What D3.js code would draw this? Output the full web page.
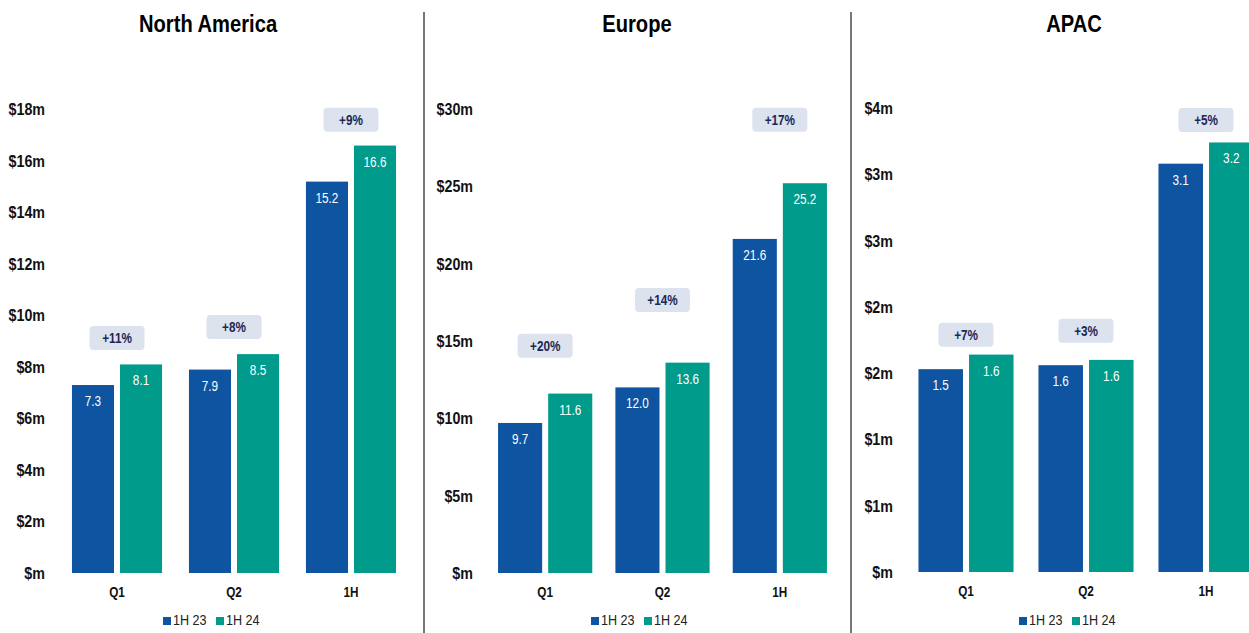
<!DOCTYPE html>
<html>
<head>
<meta charset="utf-8">
<script src="https://cdn.jsdelivr.net/npm/d3@7"></script>
<style>
  body { margin: 0; background: #fff; }
  svg { display: block; font-family: 'Liberation Sans', Arial, sans-serif; }
  /* the source chart uses a condensed face; squeeze the text sideways */
  .narrow { transform-box: fill-box; transform-origin: center; transform: scaleX(0.84); }
  .narrow-r { transform-box: fill-box; transform-origin: right center; transform: scaleX(0.84); }
  .narrow-l { transform-box: fill-box; transform-origin: left center; transform: scaleX(0.84); }
</style>
</head>
<body>
<svg id="svg" width="1249" height="633"></svg>
<script>
// chart data
var categories = ['Q1', 'Q2', '1H'];
var seriesNames = ['1H 23', '1H 24'];

var naValues23 = [7.3, 7.9, 15.2];
var naValues24 = [8.1, 8.5, 16.6];
var naGrowth = ['+11%', '+8%', '+9%'];
var naGrowthAt = [9.13, 9.55, 17.6];   // where the growth tag sits, in $m
var naTicks = [0, 2, 4, 6, 8, 10, 12, 14, 16, 18];

var euValues23 = [9.7, 12.0, 21.6];
var euValues24 = [11.6, 13.6, 25.2];
var euGrowth = ['+20%', '+14%', '+17%'];
var euGrowthAt = [14.7, 17.65, 29.3];
var euTicks = [0, 5, 10, 15, 20, 25, 30];

var apValues23 = [1.53, 1.56, 3.08];
var apValues24 = [1.64, 1.60, 3.24];
var apGrowth = ['+7%', '+3%', '+5%'];
var apGrowthAt = [1.79, 1.82, 3.41];
var apTicks = [0, 0.5, 1, 1.5, 2, 2.5, 3, 3.5];

var colors = ['#0E54A0', '#009B8B'];

var svg = d3.select('#svg');

// layout of each panel (pixels)
var panels = [
  { title: 'North America', v23: naValues23, v24: naValues24, growth: naGrowth, growthAt: naGrowthAt, ticks: naTicks,
    titleX: 208, axisX: 47, xLeft: 58.5, xRight: 409.5, pad: 0.23, barGap: 0.125, yTop: 109.5, yBottom: 573, legendX: 210 },
  { title: 'Europe', v23: euValues23, v24: euValues24, growth: euGrowth, growthAt: euGrowthAt, ticks: euTicks,
    titleX: 637, axisX: 475, xLeft: 486.5, xRight: 838.5, pad: 0.197, barGap: 0.12, yTop: 109, yBottom: 573, legendX: 638 },
  { title: 'APAC', v23: apValues23, v24: apValues24, growth: apGrowth, growthAt: apGrowthAt, ticks: apTicks,
    titleX: 1074, axisX: 895, xLeft: 906, xRight: 1266, pad: 0.208, barGap: 0.12, yTop: 108, yBottom: 572, legendX: 1066 }
];

// dividers between panels
[424, 851].forEach(function (x) {
  svg.append('line')
    .attr('x1', x).attr('x2', x)
    .attr('y1', 12).attr('y2', 633)
    .style('stroke', '#4a4a4a')
    .style('stroke-width', 1.5);
});

panels.forEach(drawPanel);

function tickLabel(v) {
  if (v === 0) return '$m';
  return '$' + Math.round(v) + 'm';
}

function drawPanel(p) {
  var g = svg.append('g');
  var ticks = p.ticks;

  var xScale = d3.scaleBand()
    .domain(categories)
    .range([p.xLeft, p.xRight])
    .paddingInner(p.pad)
    .paddingOuter(p.pad / 2);

  var xInner = d3.scaleBand()
    .domain(seriesNames)
    .range([0, xScale.bandwidth()])
    .paddingInner(p.barGap);

  var yScale = d3.scaleLinear()
    .domain([0, ticks[ticks.length - 1]])
    .range([p.yBottom, p.yTop]);

  // title
  g.append('text')
    .attr('class', 'narrow')
    .attr('x', p.titleX)
    .attr('y', 32)
    .style('text-anchor', 'middle')
    .style('font-weight', 'bold')
    .style('font-size', '24px')
    .style('fill', '#000')
    .text(p.title);

  // y axis, labels only
  var yAxis = d3.axisLeft(yScale)
    .tickValues(ticks)
    .tickSize(0)
    .tickPadding(2)
    .tickFormat(tickLabel);
  var ay = g.append('g')
    .attr('transform', 'translate(' + p.axisX + ',0)')
    .call(yAxis);
  ay.select('.domain').remove();
  ay.attr('font-family', null);
  ay.selectAll('text')
    .attr('class', 'narrow-r')
    .style('font-size', '17px')
    .style('font-weight', 'bold')
    .style('fill', '#111');

  // x axis, labels only
  var xAxis = d3.axisBottom(xScale).tickSize(0).tickPadding(14);
  var ax = g.append('g')
    .attr('transform', 'translate(0,' + p.yBottom + ')')
    .call(xAxis);
  ax.select('.domain').remove();
  ax.attr('font-family', null);
  ax.selectAll('text')
    .attr('class', 'narrow')
    .style('font-size', '14px')
    .style('font-weight', 'bold')
    .style('fill', '#111');

  var rows = categories.map(function (c, i) {
    return { cat: c, vals: [{ s: seriesNames[0], v: p.v23[i], k: 0 }, { s: seriesNames[1], v: p.v24[i], k: 1 }],
             growth: p.growth[i], at: p.growthAt[i] };
  });

  var groups = g.selectAll('.cat')
    .data(rows)
    .join('g')
    .attr('class', 'cat')
    .attr('transform', function (d) { return 'translate(' + xScale(d.cat) + ',0)'; });

  groups.selectAll('rect.bar')
    .data(function (d) { return d.vals; })
    .join('rect')
    .attr('class', 'bar')
    .attr('x', function (d) { return xInner(d.s); })
    .attr('width', xInner.bandwidth())
    .attr('y', function (d) { return yScale(d.v); })
    .attr('height', function (d) { return yScale(0) - yScale(d.v); })
    .style('fill', function (d) { return colors[d.k]; });

  groups.selectAll('text.val')
    .data(function (d) { return d.vals; })
    .join('text')
    .attr('class', 'val narrow')
    .attr('x', function (d) { return xInner(d.s) + xInner.bandwidth() / 2; })
    .attr('y', function (d) { return yScale(d.v) + 21; })
    .style('text-anchor', 'middle')
    .style('font-size', '14px')
    .style('fill', '#fff')
    .text(function (d) { return d3.format('.1f')(d.v); });

  // growth tags
  var pillW = 55, pillH = 24;
  groups.append('rect')
    .attr('x', xScale.bandwidth() / 2 - pillW / 2)
    .attr('y', function (d) { return yScale(d.at) - pillH / 2; })
    .attr('width', pillW)
    .attr('height', pillH)
    .attr('rx', 4)
    .style('fill', '#DCE3EF');

  groups.append('text')
    .attr('class', 'narrow')
    .attr('x', xScale.bandwidth() / 2)
    .attr('y', function (d) { return yScale(d.at) + 5; })
    .style('text-anchor', 'middle')
    .style('font-size', '14px')
    .style('font-weight', 'bold')
    .style('fill', '#1B2754')
    .text(function (d) { return d.growth; });

  // legend
  var legend = g.append('g')
    .attr('transform', 'translate(' + (p.legendX - 47) + ',625)');
  seriesNames.forEach(function (s, i) {
    legend.append('rect')
      .attr('x', i * 53)
      .attr('y', -8)
      .attr('width', 8)
      .attr('height', 8)
      .style('fill', colors[i]);
    legend.append('text')
      .attr('class', 'narrow-l')
      .attr('x', i * 53 + 10)
      .attr('y', 0)
      .style('font-size', '15px')
      .style('fill', '#222')
      .text(s);
  });
}
</script>
</body>
</html>
